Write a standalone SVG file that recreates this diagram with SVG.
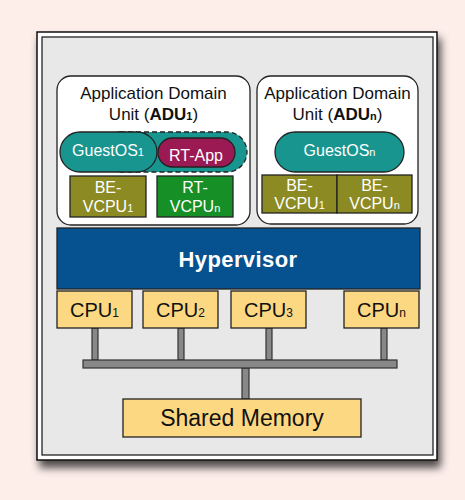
<svg xmlns="http://www.w3.org/2000/svg" width="465" height="500" viewBox="0 0 465 500">
<defs>
<filter id="sh" x="-10%" y="-10%" width="125%" height="125%">
<feDropShadow dx="3" dy="7" stdDeviation="4" flood-color="#000" flood-opacity="0.7"/>
</filter>
</defs>
<style>
text{font-family:"Liberation Sans",Arial,sans-serif;text-anchor:middle;}
.t{font-size:17px;fill:#111;}
.w{font-size:16px;fill:#fff;}
.c{font-size:20px;fill:#111;}
.sub{font-size:11px;}
.box{stroke:#222;stroke-width:1.3;}
.bar{fill:#888;stroke:#333;stroke-width:1.2;}
</style>
<rect x="0" y="0" width="465" height="500" fill="#fdeeea"/>
<g id="frame">
<rect x="37" y="32" width="400" height="428" fill="#fff" stroke="#111" stroke-width="1.5" filter="url(#sh)"/>
<rect x="42" y="37" width="391" height="418" fill="#e8e8e8" stroke="#111" stroke-width="1.2"/>
</g>
<g id="adu1">
<rect x="57" y="76" width="193" height="149" rx="14" fill="#fff" class="box"/>
<text class="t" x="153.5" y="99">Application Domain</text>
<text class="t" x="153.5" y="120">Unit (<tspan font-weight="bold">ADU</tspan><tspan font-weight="bold" font-size="11px">1</tspan>)</text>
</g>
<g id="rt-domain">
<rect x="100" y="132" width="147" height="40" rx="20" fill="#19958f" stroke="#222" stroke-width="1.3" stroke-dasharray="5,3"/>
</g>
<g id="guestos1">
<rect x="60" y="132" width="97" height="40" rx="20" fill="#19958f" class="box"/>
<text class="w" x="108" y="156">GuestOS<tspan class="sub">1</tspan></text>
</g>
<g id="rtapp">
<rect x="158" y="138" width="77" height="29" rx="14.5" fill="#9b1a53" class="box"/>
<text class="w" x="196" y="161">RT-App</text>
</g>
<g id="be-vcpu1-a">
<rect x="70" y="176" width="76" height="41" fill="#8c8a22" class="box"/>
<text class="w" x="108" y="193">BE-</text>
<text class="w" x="108" y="212">VCPU<tspan class="sub">1</tspan></text>
</g>
<g id="rt-vcpun">
<rect x="157" y="176" width="76" height="41" fill="#168f26" class="box"/>
<text class="w" x="195" y="193">RT-</text>
<text class="w" x="195" y="212">VCPU<tspan class="sub">n</tspan></text>
</g>
<g id="adun">
<rect x="257" y="76" width="161" height="148" rx="14" fill="#fff" class="box"/>
<text class="t" x="337.5" y="99">Application Domain</text>
<text class="t" x="337.5" y="120">Unit (<tspan font-weight="bold">ADU</tspan><tspan font-weight="bold" font-size="11px">n</tspan>)</text>
</g>
<g id="guestosn">
<rect x="275" y="132" width="129" height="40" rx="20" fill="#19958f" class="box"/>
<text class="w" x="339.5" y="156">GuestOS<tspan class="sub">n</tspan></text>
</g>
<g id="be-vcpu1-b">
<rect x="262" y="175" width="75" height="38" fill="#8c8a22" class="box"/>
<text class="w" x="299.5" y="191">BE-</text>
<text class="w" x="299.5" y="209">VCPU<tspan class="sub">1</tspan></text>
</g>
<g id="be-vcpun">
<rect x="337" y="175" width="75" height="38" fill="#8c8a22" class="box"/>
<text class="w" x="374.5" y="191">BE-</text>
<text class="w" x="374.5" y="209">VCPU<tspan class="sub">n</tspan></text>
</g>
<g id="hypervisor">
<rect x="57" y="228" width="363" height="61" fill="#06518f" class="box"/>
<text x="238" y="267" font-family="'DejaVu Sans',sans-serif" font-weight="bold" font-size="22px" letter-spacing="0.4" fill="#fff">Hypervisor</text>
</g>
<g id="connectors">
<rect class="bar" x="92" y="328" width="6" height="32"/>
<rect class="bar" x="178" y="328" width="6" height="32"/>
<rect class="bar" x="266" y="328" width="6" height="32"/>
<rect class="bar" x="381" y="328" width="6" height="32"/>
<rect class="bar" x="242" y="368" width="7" height="31"/>
<rect class="bar" x="83" y="360" width="314" height="8"/>
</g>
<g id="cpu1">
<rect x="57" y="291" width="75" height="37" fill="#fdd882" class="box"/>
<text class="c" x="94.5" y="317">CPU<tspan font-size="12px">1</tspan></text>
</g>
<g id="cpu2">
<rect x="143" y="291" width="75" height="37" fill="#fdd882" class="box"/>
<text class="c" x="180.5" y="317">CPU<tspan font-size="12px">2</tspan></text>
</g>
<g id="cpu3">
<rect x="231" y="291" width="75" height="37" fill="#fdd882" class="box"/>
<text class="c" x="268.5" y="317">CPU<tspan font-size="12px">3</tspan></text>
</g>
<g id="cpun">
<rect x="344" y="291" width="75" height="37" fill="#fdd882" class="box"/>
<text class="c" x="381.5" y="317">CPU<tspan font-size="12px">n</tspan></text>
</g>
<g id="memory">
<rect x="123" y="399" width="238" height="38" fill="#fdd882" class="box"/>
<text x="242" y="426" font-size="23px" fill="#111">Shared Memory</text>
</g>
</svg>
